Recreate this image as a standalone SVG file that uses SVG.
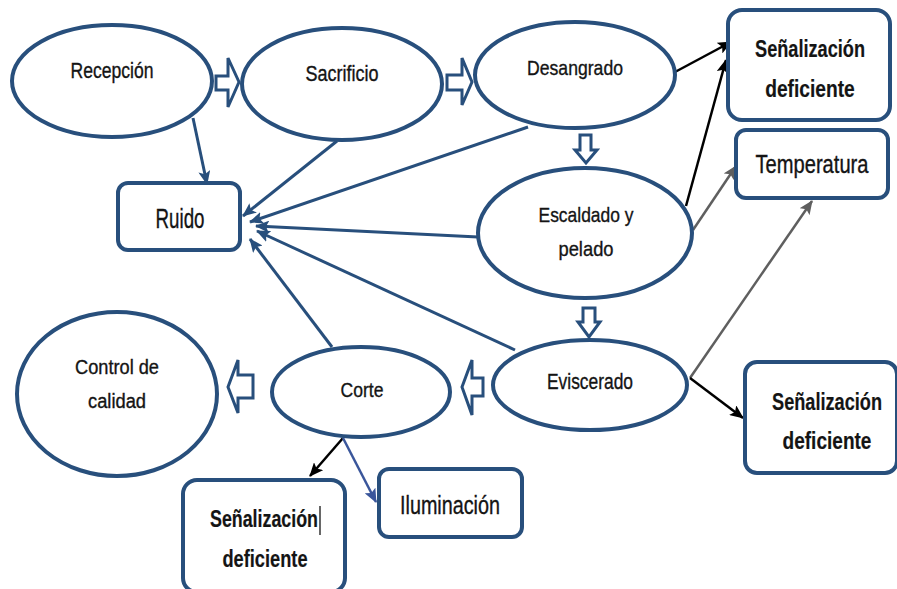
<svg xmlns="http://www.w3.org/2000/svg" width="897" height="589" viewBox="0 0 897 589">
<style>
.bg{fill:#fff}
.el{fill:#fff;stroke:#284f7c;stroke-width:4}
.bx{fill:#fff;stroke:#284f7c;stroke-width:4}
.ha{fill:#fff;stroke:#284f7c;stroke-width:3;stroke-linejoin:miter}
.t{font-family:"Liberation Sans",Arial,sans-serif;fill:#141414;text-anchor:middle;stroke:#141414;stroke-width:0.35}
.b{font-weight:bold;font-size:24px;stroke-width:0.2}
.cb{stroke:#284f7c;stroke-width:3;fill:none;marker-end:url(#mb)}
.ck{stroke:#000;stroke-width:2.5;fill:none;marker-end:url(#mk)}
.cg{stroke:#5f5f5f;stroke-width:2.5;fill:none;marker-end:url(#mg)}
.cl{stroke:#3a569b;stroke-width:2.5;fill:none;marker-end:url(#ml)}
</style>
<defs>
<marker id="mb" markerUnits="userSpaceOnUse" markerWidth="14" markerHeight="12" refX="13" refY="6" orient="auto"><path d="M0,0 L14,6 L0,12 L3,6 z" fill="#284f7c"/></marker>
<marker id="mk" markerUnits="userSpaceOnUse" markerWidth="14" markerHeight="12" refX="13" refY="6" orient="auto"><path d="M0,0 L14,6 L0,12 L3,6 z" fill="#000"/></marker>
<marker id="mg" markerUnits="userSpaceOnUse" markerWidth="14" markerHeight="12" refX="13" refY="6" orient="auto"><path d="M0,0 L14,6 L0,12 L3,6 z" fill="#5f5f5f"/></marker>
<marker id="ml" markerUnits="userSpaceOnUse" markerWidth="14" markerHeight="12" refX="13" refY="6" orient="auto"><path d="M0,0 L14,6 L0,12 L3,6 z" fill="#3a569b"/></marker>
</defs>
<rect class="bg" x="0" y="0" width="897" height="589"/>

<g id="connectors">
<line class="cb" x1="193" y1="118" x2="207" y2="184"/>
<line class="cb" x1="337" y1="141" x2="243" y2="216"/>
<line class="cb" x1="528" y1="127" x2="250" y2="222"/>
<line class="cb" x1="478" y1="237" x2="256" y2="226"/>
<line class="cb" x1="515" y1="350" x2="257" y2="231"/>
<line class="cb" x1="332" y1="347" x2="250" y2="239"/>
<line class="ck" x1="675" y1="72" x2="731" y2="42"/>
<line class="ck" x1="686" y1="206" x2="726" y2="60"/>
<line class="cg" x1="693" y1="230" x2="736" y2="166"/>
<line class="cg" x1="690" y1="378" x2="812" y2="201"/>
<line class="ck" x1="690" y1="378" x2="743" y2="418"/>
<line class="ck" x1="343" y1="438" x2="310" y2="476"/>
<line class="cl" x1="343" y1="438" x2="376" y2="502"/>
<polygon class="ha" points="216,76 228,76 228,58 239,82 228,107 228,90 216,90"/>
<polygon class="ha" points="447,75 462,75 462,58 472,82 462,105 462,90 447,90"/>
<polygon class="ha" points="580,135 591,135 591,150 597,150 586,163 575,150 580,150"/>
<polygon class="ha" points="583,308 595,308 595,322 600,322 589,337 578,322 583,322"/>
<polygon class="ha" points="483,378 472,378 472,360 462,387 472,415 472,396 483,396"/>
<polygon class="ha" points="253,375 238,375 238,360 228,387 238,413 238,398 253,398"/>
</g>

<g id="recepcion">
<ellipse class="el" cx="112" cy="81" rx="100" ry="56"/>
<text class="t" x="112" y="78" font-size="22" textLength="83" lengthAdjust="spacingAndGlyphs">Recepción</text>
</g>
<g id="sacrificio">
<ellipse class="el" cx="342" cy="84" rx="100" ry="56"/>
<text class="t" x="342" y="81" font-size="22" textLength="73" lengthAdjust="spacingAndGlyphs">Sacrificio</text>
</g>
<g id="desangrado">
<ellipse class="el" cx="575" cy="75" rx="100" ry="53"/>
<text class="t" x="575" y="75" font-size="21" textLength="96" lengthAdjust="spacingAndGlyphs">Desangrado</text>
</g>
<g id="escaldado">
<ellipse class="el" cx="585" cy="233" rx="107" ry="65"/>
<text class="t" x="586" y="222" font-size="21" textLength="95" lengthAdjust="spacingAndGlyphs">Escaldado y</text>
<text class="t" x="586" y="256" font-size="21" textLength="55" lengthAdjust="spacingAndGlyphs">pelado</text>
</g>
<g id="eviscerado">
<ellipse class="el" cx="590" cy="385" rx="97" ry="45"/>
<text class="t" x="590" y="389" font-size="22" textLength="86" lengthAdjust="spacingAndGlyphs">Eviscerado</text>
</g>
<g id="corte">
<ellipse class="el" cx="361" cy="392" rx="89" ry="45"/>
<text class="t" x="362" y="397" font-size="21" textLength="43" lengthAdjust="spacingAndGlyphs">Corte</text>
</g>
<g id="control">
<ellipse class="el" cx="117" cy="394" rx="100" ry="82"/>
<text class="t" x="117" y="374" font-size="20" textLength="84" lengthAdjust="spacingAndGlyphs">Control de</text>
<text class="t" x="117" y="408" font-size="20" textLength="58" lengthAdjust="spacingAndGlyphs">calidad</text>
</g>
<g id="ruido">
<rect class="bx" x="118" y="183" width="122" height="67" rx="10"/>
<text class="t" x="180" y="228" font-size="27" textLength="49" lengthAdjust="spacingAndGlyphs">Ruido</text>
</g>
<g id="senal-top">
<rect class="bx" x="728" y="10" width="162" height="110" rx="14"/>
<text class="t b" transform="translate(810,57) scale(0.757,1)">Señalización</text>
<text class="t b" transform="translate(810,97) scale(0.80,1)">deficiente</text>
</g>
<g id="temperatura">
<rect class="bx" x="736" y="130" width="152" height="68" rx="10"/>
<text class="t" x="812" y="173" font-size="25" textLength="113" lengthAdjust="spacingAndGlyphs">Temperatura</text>
</g>
<g id="senal-right">
<rect class="bx" x="745" y="362" width="152" height="111" rx="12"/>
<text class="t b" transform="translate(827,410) scale(0.757,1)">Señalización</text>
<text class="t b" transform="translate(827,449) scale(0.794,1)">deficiente</text>
</g>
<g id="iluminacion">
<rect class="bx" x="379" y="469" width="143" height="68" rx="10"/>
<text class="t" x="450" y="514" font-size="26" textLength="100" lengthAdjust="spacingAndGlyphs">Iluminación</text>
</g>
<g id="senal-bottom">
<rect class="bx" x="183" y="480" width="162" height="112" rx="14"/>
<text class="t b" transform="translate(264,527) scale(0.743,1)">Señalización</text>
<line x1="320" y1="506" x2="320" y2="535" stroke="#000" stroke-width="1.2"/>
<text class="t b" transform="translate(265,567) scale(0.76,1)">deficiente</text>
</g>
</svg>
